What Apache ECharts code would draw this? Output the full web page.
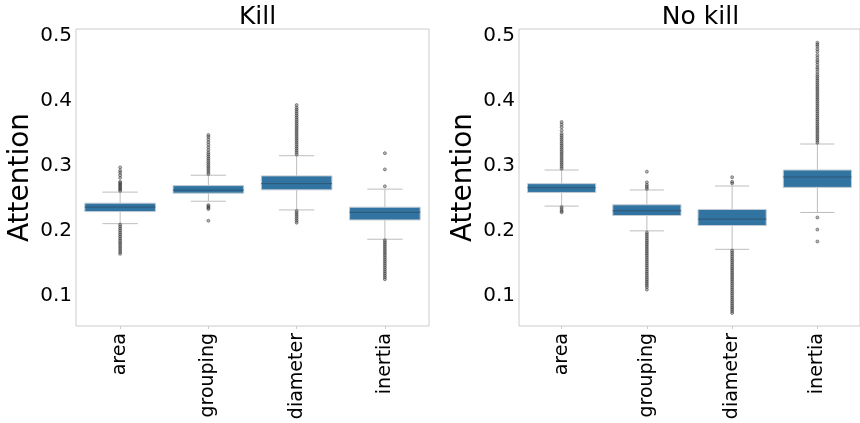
<!DOCTYPE html>
<html>
<head>
<meta charset="utf-8">
<script src="https://cdn.jsdelivr.net/npm/echarts@6/dist/echarts.min.js"></script>
<style>html,body{margin:0;padding:0;background:#fff}#c{width:860px;height:423px}</style>
</head>
<body>
<div id="c"></div>
<script>
// ---------- data ----------
const categories = ['area', 'grouping', 'diameter', 'inertia'];
const panelTitles = ['Kill', 'No kill'];
const yTicks = [0.1, 0.2, 0.3, 0.4, 0.5];

// [lower whisker, Q1, median, Q3, upper whisker]
const killBoxes = [
  [0.2115, 0.230, 0.237, 0.243, 0.260],
  [0.246, 0.2584, 0.263, 0.270, 0.286],
  [0.2326, 0.2635, 0.273, 0.285, 0.316],
  [0.1875, 0.2172, 0.229, 0.2368, 0.2646]
];
const noKillBoxes = [
  [0.2385, 0.2595, 0.2668, 0.273, 0.294],
  [0.2004, 0.224, 0.2313, 0.2405, 0.2633],
  [0.172, 0.2086, 0.2185, 0.2333, 0.2694],
  [0.2287, 0.2673, 0.2833, 0.294, 0.334]
];

// outliers per category
const killOutliers = [
  [0.262, 0.264, 0.266, 0.268, 0.270, 0.272, 0.274, 0.276, 0.282, 0.286, 0.290, 0.293, 0.298,
   0.210, 0.207, 0.204, 0.201, 0.198, 0.195, 0.192, 0.189, 0.186, 0.183, 0.180, 0.177, 0.174, 0.171, 0.168, 0.165],
  [0.288, 0.291, 0.294, 0.297, 0.300, 0.303, 0.306, 0.309, 0.312, 0.315, 0.318, 0.321, 0.325, 0.329, 0.333, 0.337, 0.341, 0.345, 0.348,
   0.240, 0.238, 0.236, 0.234, 0.216],
  [0.318, 0.321, 0.324, 0.327, 0.330, 0.333, 0.336, 0.339, 0.342, 0.345, 0.348, 0.351, 0.354, 0.357, 0.360, 0.363, 0.366, 0.369, 0.372, 0.375, 0.378, 0.381, 0.384, 0.387, 0.390, 0.394,
   0.231, 0.228, 0.225, 0.222, 0.219, 0.216, 0.213],
  [0.269, 0.295, 0.320,
   0.186, 0.183, 0.180, 0.177, 0.174, 0.171, 0.168, 0.165, 0.162, 0.159, 0.156, 0.153, 0.150, 0.147, 0.144, 0.141, 0.138, 0.135, 0.132, 0.129, 0.126]
];
const noKillOutliers = [
  [0.296, 0.299, 0.302, 0.305, 0.308, 0.311, 0.314, 0.317, 0.320, 0.323, 0.326, 0.329, 0.332, 0.335, 0.338, 0.341, 0.344, 0.347, 0.350, 0.355, 0.360, 0.364, 0.368,
   0.237, 0.234, 0.231, 0.229],
  [0.265, 0.268, 0.271, 0.275, 0.2915,
   0.198, 0.195, 0.192, 0.189, 0.186, 0.183, 0.180, 0.177, 0.174, 0.171, 0.168, 0.165, 0.162, 0.159, 0.156, 0.153, 0.150, 0.147, 0.144, 0.141, 0.138, 0.135, 0.132, 0.129, 0.126, 0.123, 0.120, 0.117, 0.114, 0.110],
  [0.2735, 0.276, 0.283,
   0.170, 0.167, 0.164, 0.161, 0.158, 0.155, 0.152, 0.149, 0.146, 0.143, 0.140, 0.137, 0.134, 0.131, 0.128, 0.125, 0.122, 0.119, 0.116, 0.113, 0.110, 0.107, 0.104, 0.101, 0.098, 0.095, 0.092, 0.089, 0.086, 0.083, 0.080, 0.077, 0.074],
  [0.336, 0.339, 0.342, 0.345, 0.348, 0.351, 0.354, 0.357, 0.360, 0.363, 0.366, 0.369, 0.372, 0.375, 0.378, 0.381, 0.384, 0.387, 0.390, 0.393, 0.396, 0.399, 0.402, 0.405, 0.408, 0.411, 0.414, 0.417, 0.420, 0.423, 0.426, 0.429, 0.432, 0.435, 0.438, 0.441, 0.445, 0.449, 0.452, 0.456, 0.460, 0.463, 0.467, 0.471, 0.476, 0.480, 0.484, 0.487, 0.490,
   0.221, 0.2024, 0.184]
];

// ---------- chart ----------
const FONT = 'DejaVu Sans';
const panels = [
  { left: 76, boxes: killBoxes, outliers: killOutliers },
  { left: 519, boxes: noKillBoxes, outliers: noKillOutliers }
];
const PW = 353, PT = 29, PH = 297;

function renderBox(params, api) {
  const i = api.value(0);
  const lo = api.coord([i, api.value(1)]);
  const q1 = api.coord([i, api.value(2)]);
  const md = api.coord([i, api.value(3)]);
  const q3 = api.coord([i, api.value(4)]);
  const hi = api.coord([i, api.value(5)]);
  const band = api.size([1, 0])[0];
  const bw = band * 0.8, cw = bw / 2, x = lo[0];
  const wStyle = { stroke: '#bdbdbd', lineWidth: 1 };
  return {
    type: 'group',
    children: [
      { type: 'line', shape: { x1: x, y1: lo[1], x2: x, y2: q1[1] }, style: wStyle },
      { type: 'line', shape: { x1: x, y1: q3[1], x2: x, y2: hi[1] }, style: wStyle },
      { type: 'line', shape: { x1: x - cw / 2, y1: lo[1], x2: x + cw / 2, y2: lo[1] }, style: wStyle },
      { type: 'line', shape: { x1: x - cw / 2, y1: hi[1], x2: x + cw / 2, y2: hi[1] }, style: wStyle },
      { type: 'rect', shape: { x: x - bw / 2, y: q3[1], width: bw, height: q1[1] - q3[1] },
        style: { fill: '#3274a1', stroke: '#c4ccd4', lineWidth: 1 } },
      { type: 'line', shape: { x1: x - bw / 2, y1: md[1], x2: x + bw / 2, y2: md[1] },
        style: { stroke: '#2f5573', lineWidth: 1 } }
    ]
  };
}

const option = {
  animation: false,
  backgroundColor: '#fff',
  textStyle: { fontFamily: FONT },
  title: panels.map((p, k) => ({
    text: panelTitles[k],
    left: p.left + PW / 2,
    top: 0,
    textAlign: 'center',
    textStyle: { fontFamily: FONT, fontSize: 25, fontWeight: 'normal', color: '#000' }
  })),
  grid: panels.map(p => ({
    left: p.left, top: PT, width: PW, height: PH,
    show: true, borderColor: '#cccccc', borderWidth: 1, backgroundColor: 'transparent'
  })),
  xAxis: panels.map((p, k) => ({
    type: 'category', gridIndex: k, data: categories, boundaryGap: true,
    axisLine: { show: false },
    axisTick: { show: true, alignWithLabel: true, length: 3, lineStyle: { color: '#cccccc' } },
    axisLabel: { rotate: 90, fontSize: 19, color: '#000', fontFamily: FONT, margin: 7, interval: 0 },
    splitLine: { show: false }
  })),
  yAxis: panels.map((p, k) => ({
    type: 'value', gridIndex: k, min: 0.054, max: 0.511,
    name: 'Attention', nameLocation: 'middle', nameRotate: 90, nameGap: 41,
    nameTextStyle: { fontSize: 28, color: '#000', fontFamily: FONT },
    axisLine: { show: false },
    axisTick: { show: false, customValues: yTicks },
    axisLabel: { customValues: yTicks, fontSize: 20, color: '#000', fontFamily: FONT, margin: 4,
      formatter: v => v.toFixed(1) },
    splitLine: { show: false }
  })),
  series: []
};

panels.forEach((p, k) => {
  option.series.push({
    type: 'scatter', xAxisIndex: k, yAxisIndex: k,
    symbol: 'circle', symbolSize: 3, silent: true,
    itemStyle: { color: 'rgba(50,50,50,0.45)', borderColor: 'rgba(50,50,50,0.75)', borderWidth: 0.8 },
    data: p.outliers.flatMap((arr, i) => arr.map(v => [i, v])),
    z: 3
  });
  option.series.push({
    type: 'custom', xAxisIndex: k, yAxisIndex: k,
    renderItem: renderBox,
    encode: { x: 0, y: [1, 2, 3, 4, 5] },
    data: p.boxes.map((b, i) => [i].concat(b)),
    z: 2
  });
});

const chart = echarts.init(document.getElementById('c'), null, { renderer: 'canvas' });
chart.setOption(option);
</script>
</body>
</html>
